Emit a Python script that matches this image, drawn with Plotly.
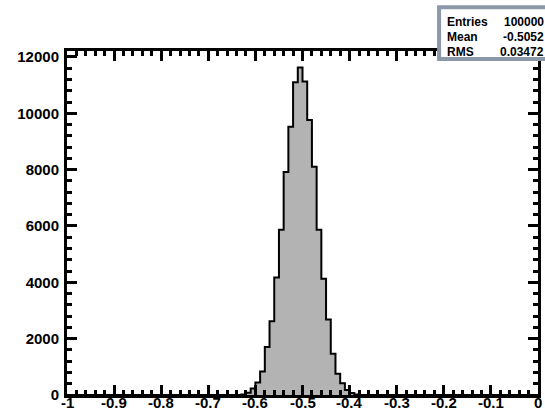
import numpy as np
import plotly.graph_objects as go

# Histogram: 100 bins of width 0.01 on [-1, 0]
bin_lo = -1.0
bin_hi = 0.0
n_bins = 100

# non-empty bins (left edge -> content)
filled_left_edges = [-0.63, -0.62, -0.61, -0.60, -0.59, -0.58, -0.57, -0.56, -0.55,
                     -0.54, -0.53, -0.52, -0.51, -0.50, -0.49, -0.48, -0.47, -0.46,
                     -0.45, -0.44, -0.43, -0.42, -0.41, -0.40, -0.39]
filled_counts = [20, 80, 230, 440, 830, 1700, 2620, 4170, 5870,
                 7920, 9520, 11100, 11630, 11130, 9760, 8100, 5870, 4130,
                 2680, 1460, 750, 420, 180, 70, 20]

stats_labels = ["Entries", "Mean", "RMS"]
stats_values = ["100000", "-0.5052", "0.03472"]

x_tick_vals = [-1, -0.9, -0.8, -0.7, -0.6, -0.5, -0.4, -0.3, -0.2, -0.1, 0]
x_tick_text = ["-1", "-0.9", "-0.8", "-0.7", "-0.6", "-0.5", "-0.4", "-0.3", "-0.2", "-0.1", "0"]
y_tick_vals = [0, 2000, 4000, 6000, 8000, 10000, 12000]
y_tick_text = ["0", "2000", "4000", "6000", "8000", "10000", "12000"]

edges = np.round(np.linspace(bin_lo, bin_hi, n_bins + 1), 4)
counts = np.zeros(n_bins)
for e, c in zip(filled_left_edges, filled_counts):
    i = int(round((e - bin_lo) / 0.01))
    counts[i] = c

xs = list(edges)
ys = list(counts) + [counts[-1]]

fig = go.Figure()
fig.add_trace(go.Scatter(
    x=xs, y=ys, mode="lines", line_shape="hv",
    line=dict(color="black", width=2),
    fill="tozeroy", fillcolor="#b3b3b3",
    hoverinfo="skip", showlegend=False,
))
# invisible trace to anchor the mirrored (top/right) axes
fig.add_trace(go.Scatter(x=[bin_lo], y=[0], xaxis="x2", yaxis="y2",
                         mode="markers", marker=dict(opacity=0),
                         hoverinfo="skip", showlegend=False))

ymax = 1.05 * max(filled_counts)
fam = "Liberation Sans"
tick_font = dict(family=fam, size=15, color="black", weight="bold")

common_x = dict(range=[bin_lo, bin_hi], showgrid=False, zeroline=False,
                showline=True, linecolor="black", linewidth=3,
                ticks="inside", ticklen=10, tickwidth=3, tickcolor="black",
                tickvals=x_tick_vals, showticklabels=False,
                minor=dict(tickvals=list(np.round(np.arange(-1, 0.0001, 0.02), 3)),
                           ticks="inside", ticklen=5, tickwidth=3, tickcolor="black"),
                automargin=False)
common_y = dict(range=[0, ymax], showgrid=False, zeroline=False,
                showline=True, linecolor="black", linewidth=3,
                ticks="inside", ticklen=10, tickwidth=3, tickcolor="black",
                tickvals=y_tick_vals,
                minor=dict(tickvals=list(range(0, 12001, 400)),
                           ticks="inside", ticklen=5, tickwidth=3, tickcolor="black"),
                automargin=False)

fig.update_layout(
    width=545, height=414,
    margin=dict(l=67, r=7, t=51, b=19),
    paper_bgcolor="white", plot_bgcolor="white",
    showlegend=False,
    xaxis=dict(**common_x),
    yaxis=dict(**common_y, ticktext=y_tick_text, tickfont=tick_font, ticklabelstandoff=2),
    xaxis2=dict(**common_x, overlaying="x", side="top", anchor="y2"),
    yaxis2=dict(**common_y, overlaying="y", side="right", anchor="x2", showticklabels=False),
)

# x tick labels (placed as text just under the axis, as in the ROOT canvas)
for v, t in zip(x_tick_vals, x_tick_text):
    fig.add_annotation(xref="x", yref="paper", x=v, y=0, text=t, showarrow=False,
                       xanchor="center", yanchor="top", yshift=3,
                       font=tick_font)

# stats box
fig.add_shape(type="rect", xref="paper", yref="paper",
              x0=0.790, x1=1.06, y0=0.977, y1=1.127,
              line=dict(color="#8a98a8", width=4), fillcolor="white", layer="above")
ys_paper = [1.085, 1.0416, 0.996]
for lab, val, yp in zip(stats_labels, stats_values, ys_paper):
    fig.add_annotation(xref="paper", yref="paper", x=0.803, y=yp, text=lab,
                       showarrow=False, xanchor="left", yanchor="middle",
                       font=dict(family=fam, size=12, color="black", weight="bold"))
    fig.add_annotation(xref="paper", yref="paper", x=1.0175, y=yp, text=val,
                       showarrow=False, xanchor="right", yanchor="middle",
                       font=dict(family=fam, size=12, color="black", weight="bold"))

fig.write_html("out.html")
